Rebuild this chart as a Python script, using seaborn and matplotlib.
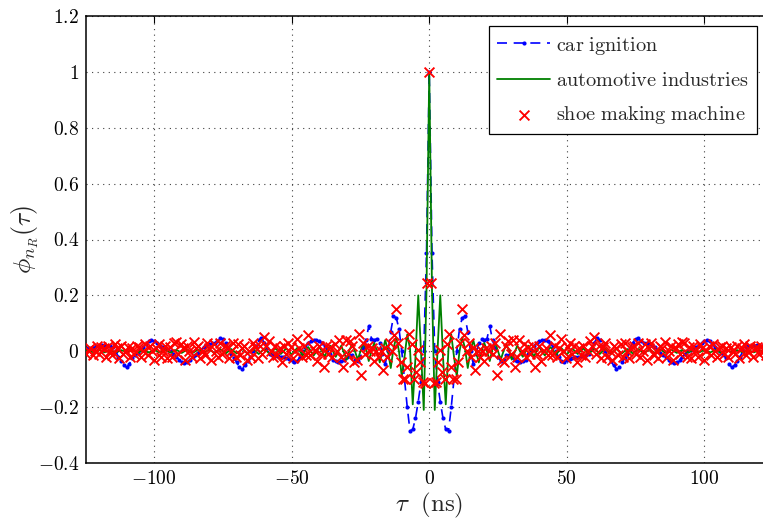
import numpy as np
import pandas as pd
import matplotlib
matplotlib.use("Agg")
import matplotlib.pyplot as plt
import seaborn as sns

# ---------------- data ----------------
tau = np.arange(-125, 126)                 # ns, 1 ns sampling (lines)
tau_shoe = np.arange(-156, 157) * 0.8      # ns, 0.8 ns sampling (crosses)

car_ignition = [
    0.012, 0.01, 0.01, 0.012, 0.018, 0.02,
    0.022, 0.02, 0.02, 0.02, 0.015, 0.0, -0.02, -0.035, -0.05, -0.058,
    -0.045, -0.025, -0.012, -0.005, 0.005, 0.015, 0.025, 0.035, 0.04, 0.035,
    0.028, 0.02, 0.015, 0.01, 0.005, 0.0, -0.01, -0.02, -0.03, -0.04,
    -0.042, -0.04, -0.03, -0.02, -0.012, -0.005, 0.005, 0.015, 0.024, 0.027,
    0.028, 0.03, 0.035, 0.046, 0.045, 0.03, 0.01, -0.01, -0.025, -0.04,
    -0.058, -0.062, -0.05, -0.035, -0.02, 0.0, 0.02, 0.04, 0.048, 0.03,
    0.01, -0.01, -0.014, -0.016, -0.018, -0.02, -0.02, -0.024, -0.028, -0.032,
    -0.038, -0.035, -0.02, 0.0, 0.015, 0.03, 0.035, 0.04, 0.04, 0.036,
    0.03, 0.02, 0.005, -0.01, -0.03, -0.035, -0.038, -0.036, -0.03, -0.02,
    -0.014, -0.015, -0.03, -0.035, -0.02, 0.01, 0.04, 0.09, 0.045, 0.04,
    0.045, 0.03, -0.01, -0.045, 0.0, 0.07, 0.125, 0.12, 0.08, 0.0,
    -0.1, -0.2, -0.285, -0.28, -0.24, -0.18, -0.11, 0.0, 0.35,
    1.0, 0.35, 0.0, -0.11, -0.18, -0.24, -0.28, -0.285, -0.2, -0.1,
    0.0, 0.08, 0.12, 0.125, 0.07, 0.0, -0.045, -0.01, 0.03, 0.045,
    0.04, 0.045, 0.09, 0.04, 0.01, -0.02, -0.035, -0.03, -0.015, -0.014,
    -0.02, -0.03, -0.036, -0.038, -0.035, -0.03, -0.01, 0.005, 0.02, 0.03,
    0.036, 0.04, 0.04, 0.035, 0.03, 0.015, 0.0, -0.02, -0.035, -0.038,
    -0.032, -0.028, -0.024, -0.02, -0.02, -0.018, -0.016, -0.014, -0.01, 0.01,
    0.03, 0.048, 0.04, 0.02, 0.0, -0.02, -0.035, -0.05, -0.062, -0.058,
    -0.04, -0.025, -0.01, 0.01, 0.03, 0.045, 0.046, 0.035, 0.03, 0.028,
    0.027, 0.024, 0.015, 0.005, -0.005, -0.012, -0.02, -0.03, -0.04, -0.042,
    -0.04, -0.03, -0.02, -0.01, 0.0, 0.005, 0.01, 0.015, 0.02, 0.028,
    0.035, 0.04, 0.035, 0.025, 0.015, 0.005, -0.005, -0.012, -0.025, -0.045,
    -0.058, -0.05, -0.035, -0.02, 0.0, 0.015, 0.02, 0.02, 0.02, 0.022,
    0.02, 0.018, 0.012, 0.01, 0.01, 0.012,
]

automotive = [
    0.0, 0.003, 0.0, -0.004, 0.0, 0.004,
    0.0, -0.004, 0.0, 0.004, 0.0, -0.004, 0.0, 0.004, 0.0, -0.004,
    0.0, 0.004, 0.0, -0.005, 0.0, 0.005, 0.0, -0.005, 0.0, 0.005,
    0.0, -0.005, 0.0, 0.005, 0.0, -0.005, 0.0, 0.005, 0.0, -0.006,
    0.0, 0.006, 0.0, -0.006, 0.0, 0.006, 0.0, -0.006, 0.0, 0.006,
    0.0, -0.008, 0.0, 0.008, 0.0, -0.008, 0.0, 0.008, 0.0, -0.008,
    0.0, 0.008, 0.0, -0.01, 0.0, 0.01, 0.0, -0.01, 0.0, 0.01,
    0.0, -0.01, 0.0, 0.01, 0.002, -0.01, 0.0, 0.01, 0.0, -0.012,
    0.0, 0.012, 0.0, -0.015, 0.005, 0.015, 0.0, -0.015, 0.0, 0.015,
    0.0, -0.02, 0.005, 0.02, 0.0, -0.02, 0.0, 0.02, -0.005, -0.03,
    0.005, 0.025, 0.0, -0.03, 0.0, 0.03, 0.01, -0.035, 0.0, 0.03,
    0.0, -0.04, 0.0, 0.04, 0.0, -0.06, 0.01, 0.05, 0.0, -0.09,
    -0.02, 0.06, 0.01, -0.19, -0.02, 0.2, 0.0, -0.21, 0.22,
    1.0, 0.22, -0.21, 0.0, 0.2, -0.02, -0.19, 0.01, 0.06, -0.02,
    -0.09, 0.0, 0.05, 0.01, -0.06, 0.0, 0.04, 0.0, -0.04, 0.0,
    0.03, 0.0, -0.035, 0.01, 0.03, 0.0, -0.03, 0.0, 0.025, 0.005,
    -0.03, -0.005, 0.02, 0.0, -0.02, 0.0, 0.02, 0.005, -0.02, 0.0,
    0.015, 0.0, -0.015, 0.0, 0.015, 0.005, -0.015, 0.0, 0.012, 0.0,
    -0.012, 0.0, 0.01, 0.0, -0.01, 0.002, 0.01, 0.0, -0.01, 0.0,
    0.01, 0.0, -0.01, 0.0, 0.01, 0.0, -0.01, 0.0, 0.008, 0.0,
    -0.008, 0.0, 0.008, 0.0, -0.008, 0.0, 0.008, 0.0, -0.008, 0.0,
    0.006, 0.0, -0.006, 0.0, 0.006, 0.0, -0.006, 0.0, 0.006, 0.0,
    -0.006, 0.0, 0.005, 0.0, -0.005, 0.0, 0.005, 0.0, -0.005, 0.0,
    0.005, 0.0, -0.005, 0.0, 0.005, 0.0, -0.005, 0.0, 0.004, 0.0,
    -0.004, 0.0, 0.004, 0.0, -0.004, 0.0, 0.004, 0.0, -0.004, 0.0,
    0.004, 0.0, -0.004, 0.0, 0.003, 0.0,
]

shoe_machine = [
    -0.01, 0.005, 0.01, -0.015, 0.0, 0.02, -0.01,
    0.015, 0.01, -0.02, 0.02, 0.0, -0.015, 0.025, 0.01, -0.025, 0.02,
    -0.01, 0.0, 0.015, -0.02, 0.01, -0.01, 0.02, 0.015, -0.02, 0.0,
    0.025, -0.015, 0.02, 0.0, -0.03, 0.01, 0.025, -0.02, 0.0, 0.02,
    -0.025, 0.015, -0.02, 0.03, 0.033, -0.01, 0.025, 0.01, -0.03, 0.02,
    0.0, -0.02, 0.033, 0.01, 0.02, -0.025, 0.0, -0.015, 0.03, 0.01,
    -0.03, 0.025, 0.0, -0.02, 0.03, -0.01, 0.02, 0.015, -0.025, 0.0,
    0.03, -0.02, 0.025, -0.015, 0.01, 0.02, -0.03, 0.0, -0.02, 0.03,
    0.015, -0.025, 0.02, -0.01, 0.051, 0.02, 0.035, 0.0, -0.02, 0.02,
    -0.015, 0.01, -0.038, 0.02, -0.01, 0.03, 0.015, -0.025, 0.0, 0.045,
    0.01, -0.02, 0.02, -0.015, 0.057, -0.015, 0.01, 0.0, -0.036, 0.02,
    -0.01, -0.056, 0.02, -0.01, 0.015, -0.02, 0.025, 0.0, 0.04, -0.02,
    -0.056, 0.04, -0.01, 0.035, 0.02, -0.04, -0.03, 0.063, -0.086, 0.03,
    -0.01, 0.02, 0.0, 0.01, -0.035, 0.0, -0.02, 0.0, -0.068, 0.01,
    -0.02, 0.03, 0.0, 0.057, 0.153, 0.03, -0.038, -0.098, -0.1, -0.058,
    0.063, 0.027, -0.1, -0.074, 0.004, -0.04, -0.11, -0.115, 0.245,
    1.0, 0.245, -0.115, -0.11, -0.04, 0.004, -0.074, -0.1, 0.027, 0.063,
    -0.058, -0.1, -0.098, -0.038, 0.03, 0.153, 0.057, 0.0, 0.03, -0.02,
    0.01, -0.068, 0.0, -0.02, 0.0, -0.035, 0.01, 0.0, 0.02, -0.01,
    0.03, -0.086, 0.063, -0.03, -0.04, 0.02, 0.035, -0.01, 0.04, -0.056,
    -0.02, 0.04, 0.0, 0.025, -0.02, 0.015, -0.01, 0.02, -0.056, -0.01,
    0.02, -0.036, 0.0, 0.01, -0.015, 0.057, -0.015, 0.02, -0.02, 0.01,
    0.045, 0.0, -0.025, 0.015, 0.03, -0.01, 0.02, -0.038, 0.01, -0.015,
    0.02, -0.02, 0.0, 0.035, 0.02, 0.051, -0.01, 0.02, -0.025, 0.015,
    0.03, -0.02, 0.0, -0.03, 0.02, 0.01, -0.015, 0.025, -0.02, 0.03,
    0.0, -0.025, 0.015, 0.02, -0.01, 0.03, -0.02, 0.0, 0.025, -0.03,
    0.01, 0.03, -0.015, 0.0, -0.025, 0.02, 0.01, 0.033, -0.02, 0.0,
    0.02, -0.03, 0.01, 0.025, -0.01, 0.033, 0.03, -0.02, 0.015, -0.025,
    0.02, 0.0, -0.02, 0.025, 0.01, -0.03, 0.0, 0.02, -0.015, 0.025,
    0.0, -0.02, 0.015, 0.02, -0.01, 0.01, -0.02, 0.015, 0.0, -0.01,
    0.02, -0.025, 0.01, 0.025, -0.015, 0.0, 0.02, -0.02, 0.01, 0.015,
    -0.01, 0.02, 0.0, -0.015, 0.01, 0.005, -0.01,
]

xticks = [-100, -50, 0, 50, 100]
yticks = [-0.4, -0.2, 0, 0.2, 0.4, 0.6, 0.8, 1, 1.2]
xtick_labels = [r"$-100$", r"$-50$", r"$0$", r"$50$", r"$100$"]
ytick_labels = [r"$-0.4$", r"$-0.2$", r"$0$", r"$0.2$", r"$0.4$", r"$0.6$",
                r"$0.8$", r"$1$", r"$1.2$"]

df_lines = pd.DataFrame({"tau": tau, "car": car_ignition, "auto": automotive})
df_shoe = pd.DataFrame({"tau": tau_shoe, "shoe": shoe_machine})

# ---------------- plot ----------------
sns.set_style("white")
plt.rcParams["mathtext.fontset"] = "cm"
plt.rcParams["font.family"] = ["DejaVu Serif"]

fig = plt.figure(figsize=(7.63, 5.23), dpi=100)
ax = fig.add_axes([86 / 763, 60 / 523, (772.5 - 86) / 763, 447 / 523])

sns.lineplot(data=df_lines, x="tau", y="car", ax=ax, estimator=None, sort=False,
             color="#0000ff", linewidth=1.2, linestyle="--", marker=".",
             markersize=6, markeredgecolor="#0000ff", markeredgewidth=0,
             label=r"$\mathrm{car\ ignition}$", zorder=2)
ax.lines[-1].set_dashes([6, 4])

sns.lineplot(data=df_lines, x="tau", y="auto", ax=ax, estimator=None, sort=False,
             color="#008000", linewidth=1.3,
             label=r"$\mathrm{automotive\ industries}$", zorder=3)

sns.scatterplot(data=df_shoe, x="tau", y="shoe", ax=ax, marker="x",
                color="#ff0000", s=50, linewidth=1.35,
                label=r"$\mathrm{shoe\ making\ machine}$", zorder=4)

ax.set_xlim(-124.8, 124.8)
ax.set_ylim(-0.4, 1.2)
ax.set_xticks(xticks)
ax.set_xticklabels(xtick_labels)
ax.set_yticks(yticks)
ax.set_yticklabels(ytick_labels)
ax.tick_params(direction="in", length=5, width=0.8, top=True, right=True,
               labelsize=14, pad=5, colors="black")
ax.grid(True, linestyle=(0, (1, 4)), color="0.25", linewidth=0.8)
for sp in ax.spines.values():
    sp.set_color("black")
    sp.set_linewidth(1.1)

ax.set_xlabel(r"$\tau\ \ (\mathrm{ns})$", fontsize=18, labelpad=2)
ax.set_ylabel(r"$\phi_{n_R}(\tau)$", fontsize=18.5, labelpad=-2)

leg = ax.legend(loc="upper right", bbox_to_anchor=(757 / 763, 1 - 26 / 523),
                bbox_transform=fig.transFigure, borderaxespad=0,
                fontsize=14.6, frameon=True, fancybox=False, framealpha=1,
                edgecolor="black", handlelength=2.6, handletextpad=0.3,
                labelspacing=0.7, borderpad=0.42)
leg.get_frame().set_linewidth(0.9)

fig.savefig("out.png", dpi=100)
